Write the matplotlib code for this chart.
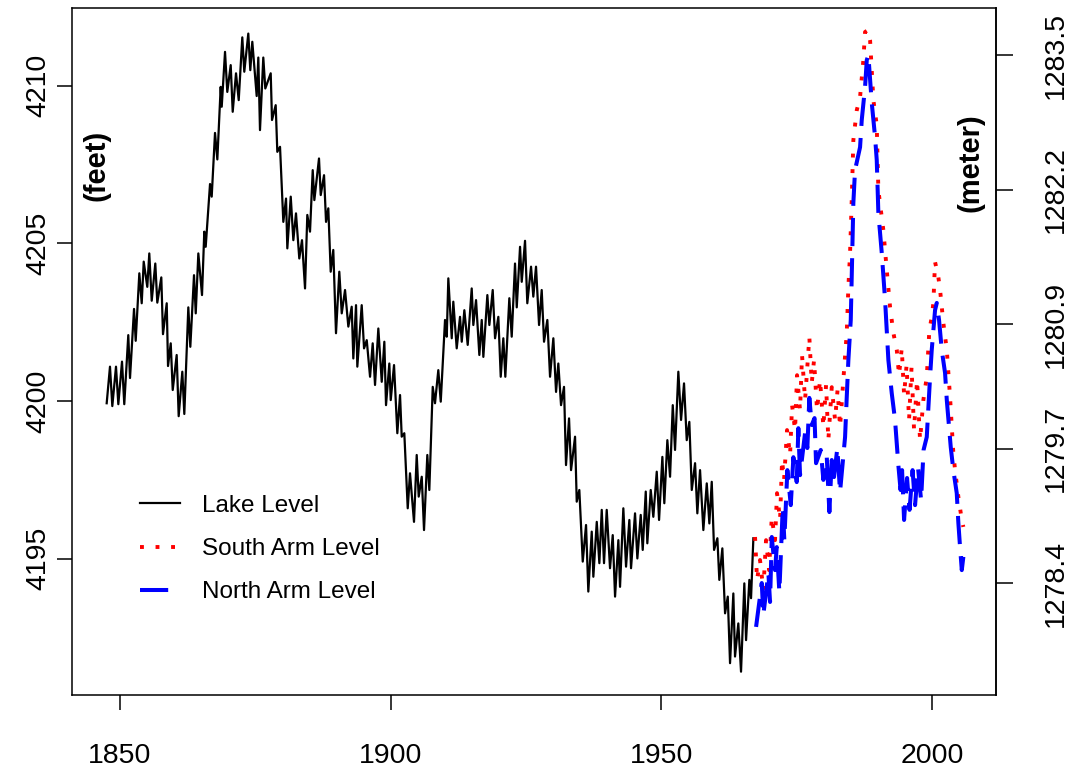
import matplotlib
matplotlib.use("Agg")
import matplotlib.pyplot as plt

plt.rcParams['font.family'] = ['Liberation Sans', 'DejaVu Sans']

# Great Salt Lake level (feet), seasonal highs and lows
lake_year = [1847.54, 1848.15, 1848.58, 1849.26, 1849.69, 1850.37, 1850.79, 1851.53, 1851.85, 1852.59,
             1852.90, 1853.57, 1854.01, 1854.38, 1855.04, 1855.41, 1855.86, 1856.52, 1856.89, 1857.63,
             1857.94, 1858.63, 1858.87, 1859.37, 1859.74, 1860.47, 1860.84, 1861.51, 1861.88, 1862.62,
             1862.99, 1863.67, 1863.99, 1864.47, 1865.15, 1865.57, 1865.83, 1866.63, 1866.94, 1867.55,
             1867.98, 1868.60, 1868.79, 1869.40, 1869.82, 1870.45, 1870.82, 1871.43, 1871.93, 1872.59,
             1872.96, 1873.70, 1874.07, 1874.44, 1875.25, 1875.55, 1875.86, 1876.47, 1876.84, 1877.84,
             1878.08, 1878.76, 1879.06, 1879.56, 1880.17, 1880.67, 1880.91, 1881.54, 1882.02, 1882.51,
             1883.12, 1883.62, 1884.18, 1884.60, 1885.10, 1885.60, 1885.90, 1886.76, 1887.08, 1887.69,
             1888.06, 1888.48, 1888.92, 1889.40, 1889.90, 1890.51, 1890.96, 1891.57, 1892.18, 1892.80,
             1893.10, 1893.60, 1893.84, 1894.65, 1895.08, 1895.58, 1896.19, 1896.68, 1897.11, 1897.72,
             1898.35, 1898.83, 1899.14, 1899.75, 1900.01, 1900.62, 1901.23, 1901.73, 1902.04, 1902.52,
             1903.15, 1903.57, 1904.31, 1904.81, 1905.18, 1905.74, 1906.16, 1906.77, 1907.14, 1907.77,
             1908.19, 1908.80, 1909.25, 1910.04, 1910.36, 1910.65, 1911.28, 1911.57, 1912.20, 1912.81,
             1913.13, 1913.61, 1914.23, 1914.97, 1915.27, 1915.77, 1916.38, 1916.82, 1917.12, 1917.86,
             1918.23, 1918.85, 1919.28, 1919.89, 1920.33, 1920.81, 1921.18, 1921.92, 1922.36, 1922.97,
             1923.29, 1923.90, 1924.21, 1924.82, 1925.24, 1925.93, 1926.35, 1926.85, 1927.41, 1927.90,
             1928.33, 1928.94, 1929.44, 1930.05, 1930.55, 1930.97, 1931.47, 1932.02, 1932.39, 1932.95,
             1933.32, 1934.06, 1934.37, 1934.85, 1935.48, 1936.09, 1936.51, 1937.14, 1937.44, 1938.07,
             1938.55, 1938.99, 1939.41, 1939.91, 1940.52, 1941.02, 1941.45, 1942.06, 1942.37, 1942.98,
             1943.48, 1944.09, 1944.40, 1945.14, 1945.57, 1946.19, 1946.56, 1947.12, 1947.41, 1948.04,
             1948.52, 1949.15, 1949.58, 1950.19, 1950.55, 1951.11, 1951.61, 1952.11, 1952.53, 1953.14,
             1953.64, 1954.19, 1954.69, 1955.17, 1955.62, 1956.23, 1956.65, 1957.15, 1957.76, 1958.39,
             1958.87, 1959.31, 1959.74, 1960.35, 1960.71, 1961.27, 1961.77, 1962.27, 1962.69, 1963.30,
             1963.61, 1964.22, 1964.72, 1965.33, 1965.65, 1966.26, 1966.57, 1967.00]
lake_ft = [4199.93, 4201.09, 4199.84, 4201.09, 4199.90, 4201.25, 4199.90, 4202.09, 4200.73, 4202.92,
           4201.91, 4204.05, 4203.10, 4204.42, 4203.62, 4204.68, 4203.18, 4204.36, 4203.12, 4203.92,
           4202.12, 4203.10, 4201.11, 4201.83, 4200.35, 4201.46, 4199.52, 4200.93, 4199.59, 4202.97,
           4201.72, 4203.99, 4202.78, 4204.68, 4203.36, 4205.37, 4204.89, 4206.88, 4206.48, 4208.50,
           4207.66, 4209.96, 4209.33, 4211.07, 4209.80, 4210.65, 4209.17, 4210.39, 4209.54, 4211.53,
           4210.44, 4211.65, 4210.49, 4211.39, 4209.67, 4210.89, 4208.59, 4210.89, 4209.91, 4210.39,
           4208.91, 4209.38, 4207.90, 4208.06, 4205.68, 4206.42, 4204.84, 4206.48, 4205.10, 4205.95,
           4204.52, 4205.10, 4203.57, 4205.90, 4205.37, 4207.32, 4206.37, 4207.69, 4206.53, 4207.16,
           4205.68, 4206.11, 4204.10, 4204.79, 4202.15, 4204.10, 4202.78, 4203.52, 4202.36, 4202.99,
           4201.35, 4203.04, 4201.09, 4203.04, 4201.67, 4201.93, 4200.77, 4201.83, 4200.51, 4202.30,
           4200.61, 4201.88, 4199.87, 4201.19, 4200.03, 4201.14, 4198.98, 4200.19, 4198.87, 4198.98,
           4196.60, 4197.71, 4196.17, 4198.29, 4196.97, 4197.60, 4195.91, 4198.29, 4197.18, 4200.45,
           4199.93, 4200.98, 4199.98, 4202.57, 4202.04, 4203.89, 4201.99, 4203.15, 4201.67, 4202.67,
           4201.88, 4202.88, 4201.78, 4203.57, 4202.41, 4203.20, 4201.46, 4202.57, 4201.40, 4203.36,
           4202.41, 4203.52, 4201.99, 4202.67, 4200.77, 4201.99, 4200.77, 4203.26, 4202.04, 4204.36,
           4202.97, 4204.89, 4203.78, 4205.08, 4203.10, 4204.26, 4203.31, 4204.26, 4202.41, 4203.52,
           4201.88, 4202.57, 4200.77, 4201.99, 4200.29, 4201.19, 4199.87, 4200.45, 4197.97, 4199.45,
           4197.81, 4198.87, 4196.81, 4197.18, 4194.91, 4196.07, 4193.96, 4195.86, 4194.43, 4196.17,
           4194.86, 4196.55, 4194.86, 4196.55, 4194.70, 4195.75, 4193.80, 4195.59, 4194.11, 4196.60,
           4194.75, 4196.23, 4194.70, 4196.44, 4195.01, 4196.39, 4195.28, 4197.13, 4195.49, 4197.18,
           4196.33, 4197.76, 4196.23, 4198.23, 4196.76, 4198.76, 4197.60, 4199.87, 4198.45, 4200.93,
           4199.40, 4200.56, 4198.76, 4199.34, 4197.18, 4198.03, 4196.44, 4197.81, 4195.91, 4197.39,
           4196.12, 4197.44, 4195.28, 4195.65, 4194.33, 4195.33, 4193.27, 4193.80, 4191.69, 4193.90,
           4191.90, 4192.95, 4191.42, 4194.22, 4192.42, 4194.33, 4193.75, 4195.65]

# South arm (feet)
south_year = [1967.31, 1967.68, 1968.23, 1968.84, 1969.34, 1969.90, 1970.40, 1971.00, 1971.37, 1971.93,
              1972.30, 1972.67, 1973.22, 1973.78, 1974.15, 1974.70, 1975.07, 1975.62, 1975.99, 1976.55,
              1977.34, 1977.78, 1978.21, 1978.76, 1979.32, 1979.93, 1980.43, 1980.85, 1981.48, 1982.09,
              1982.55, 1983.01, 1983.62, 1984.25, 1984.55, 1984.86, 1985.17, 1985.47, 1986.10, 1986.71,
              1987.32, 1987.63, 1988.19, 1988.56, 1989.17, 1989.79, 1990.09, 1991.01, 1991.64, 1992.25,
              1992.86, 1993.49, 1993.91, 1994.41, 1994.84, 1995.30, 1995.76, 1996.22, 1996.68, 1997.24,
              1997.79, 1998.40, 1999.03, 1999.51, 1999.95, 2000.25, 2000.56, 2001.17, 2001.49, 2002.10,
              2002.73, 2003.33, 2003.94, 2004.26, 2004.87, 2005.50, 2005.79]
south_ft = [4195.69, 4194.33, 4194.96, 4194.01, 4195.59, 4194.64, 4196.32, 4195.59, 4197.08, 4196.23,
            4198.13, 4197.50, 4199.08, 4198.29, 4199.87, 4199.08, 4200.82, 4199.71, 4201.46, 4200.03,
            4202.03, 4200.57, 4201.30, 4199.71, 4200.67, 4199.18, 4200.51, 4198.76, 4200.44, 4199.40,
            4200.35, 4199.18, 4200.67, 4202.16, 4203.61, 4204.69, 4206.37, 4208.27, 4209.22, 4209.64,
            4210.81, 4211.70, 4211.76, 4211.44, 4209.54, 4208.75, 4206.69, 4205.42, 4204.15, 4202.98,
            4202.16, 4201.62, 4200.82, 4201.68, 4200.19, 4201.14, 4199.40, 4201.08, 4199.08, 4200.67,
            4198.76, 4200.03, 4200.76, 4202.25, 4202.66, 4203.11, 4204.41, 4203.93, 4203.52, 4202.47,
            4201.62, 4200.13, 4198.35, 4197.81, 4196.96, 4196.23, 4196.01]

# North arm (feet)
north_year = [1967.50, 1968.55, 1968.84, 1969.77, 1970.08, 1970.40, 1971.00, 1971.32, 1971.80, 1972.43,
              1972.72, 1973.28, 1973.91, 1974.39, 1975.01, 1975.31, 1975.62, 1976.55, 1976.97, 1977.34,
              1977.78, 1978.30, 1978.58, 1979.45, 1979.93, 1980.56, 1981.04, 1981.48, 1981.90, 1982.51,
              1983.01, 1983.94, 1984.25, 1984.55, 1984.99, 1985.47, 1985.78, 1986.71, 1987.02, 1987.63,
              1987.95, 1988.24, 1988.87, 1989.48, 1989.79, 1990.09, 1990.72, 1991.33, 1991.94, 1992.56,
              1993.17, 1993.78, 1994.19, 1994.47, 1994.84, 1995.39, 1995.85, 1996.41, 1996.87, 1997.42,
              1997.98, 1998.44, 1999.03, 1999.64, 1999.95, 2000.56, 2000.88, 2001.30, 2001.80, 2002.41,
              2002.73, 2003.46, 2003.94, 2004.57, 2004.87, 2005.18, 2005.50, 2005.79]
north_ft = [4192.84, 4194.23, 4193.22, 4194.55, 4193.63, 4195.69, 4194.64, 4195.37, 4193.95, 4196.64,
            4195.59, 4197.81, 4196.70, 4198.22, 4197.43, 4199.14, 4197.65, 4198.99, 4198.51, 4200.10,
            4199.24, 4199.46, 4198.03, 4198.45, 4197.50, 4198.22, 4196.48, 4198.13, 4197.59, 4198.51,
            4197.12, 4198.86, 4200.13, 4201.30, 4202.57, 4206.28, 4207.32, 4208.05, 4208.91, 4209.95,
            4210.81, 4210.97, 4209.45, 4208.37, 4207.64, 4205.96, 4204.69, 4203.20, 4201.30, 4200.25,
            4199.40, 4197.97, 4197.18, 4197.81, 4196.23, 4197.56, 4196.55, 4197.81, 4196.70, 4197.88,
            4196.86, 4198.45, 4198.86, 4200.76, 4201.62, 4202.88, 4203.11, 4202.57, 4201.62, 4200.89,
            4200.03, 4198.54, 4197.81, 4197.08, 4196.13, 4195.37, 4194.64, 4195.06]

feet_ticks = [4195, 4200, 4205, 4210]
meter_ticks = [1278.4, 1279.7, 1280.9, 1282.2, 1283.5]
year_ticks = [1850, 1900, 1950, 2000]

fig = plt.figure(figsize=(10.76, 7.79), dpi=100)
ax = fig.add_axes([0.0669, 0.1078, 0.8588, 0.8815])

ax.plot(lake_year, lake_ft, color='black', lw=1.6, label='Lake Level')
ax.plot(south_year, south_ft, color='red', lw=2.8, linestyle=(0, (1, 3)), label='South Arm Level')
ax.plot(north_year, north_ft, color='blue', lw=2.9, linestyle=(0, (7, 3)), label='North Arm Level')

ax.set_xlim(1841.13, 2011.83)
ax.set_ylim(4190.68, 4212.45)

for s in ax.spines.values():
    s.set_linewidth(1.1)

ax.set_xticks(year_ticks)
ax.set_xticklabels([str(y) for y in year_ticks])
ax.set_yticks(feet_ticks)
ax.set_yticklabels([str(v) for v in feet_ticks], rotation=90, va='center')
ax.tick_params(axis='x', length=10.8, width=1.1, labelsize=20.5, pad=24)
ax.tick_params(axis='y', length=10.8, width=1.1, labelsize=20.5, pad=4)

# meters on the right-hand axis
sec = ax.secondary_yaxis('right', functions=(lambda f: f * 0.3048, lambda m: m / 0.3048))
sec.set_yticks(meter_ticks)
sec.set_yticklabels(['%.1f' % m for m in meter_ticks], rotation=90, va='center')
sec.tick_params(axis='y', length=12.5, width=1.1, labelsize=20.5, pad=21)
sec.spines['right'].set_linewidth(1.1)

fig.text(97 / 1076, 1 - 165 / 779, '(feet)', rotation=90, fontsize=21,
         fontweight='bold', ha='center', va='center')
fig.text(970 / 1076, 1 - 163 / 779, '(meter)', rotation=90, fontsize=21,
         fontweight='bold', ha='center', va='center')

ax.legend(loc='center left', bbox_to_anchor=(140 / 1076, 1 - 549 / 779),
          bbox_transform=fig.transFigure, frameon=False, fontsize=17.5,
          handlelength=1.65, handletextpad=0.9, labelspacing=0.88,
          borderpad=0, borderaxespad=0)

fig.savefig('out.png', dpi=100)
